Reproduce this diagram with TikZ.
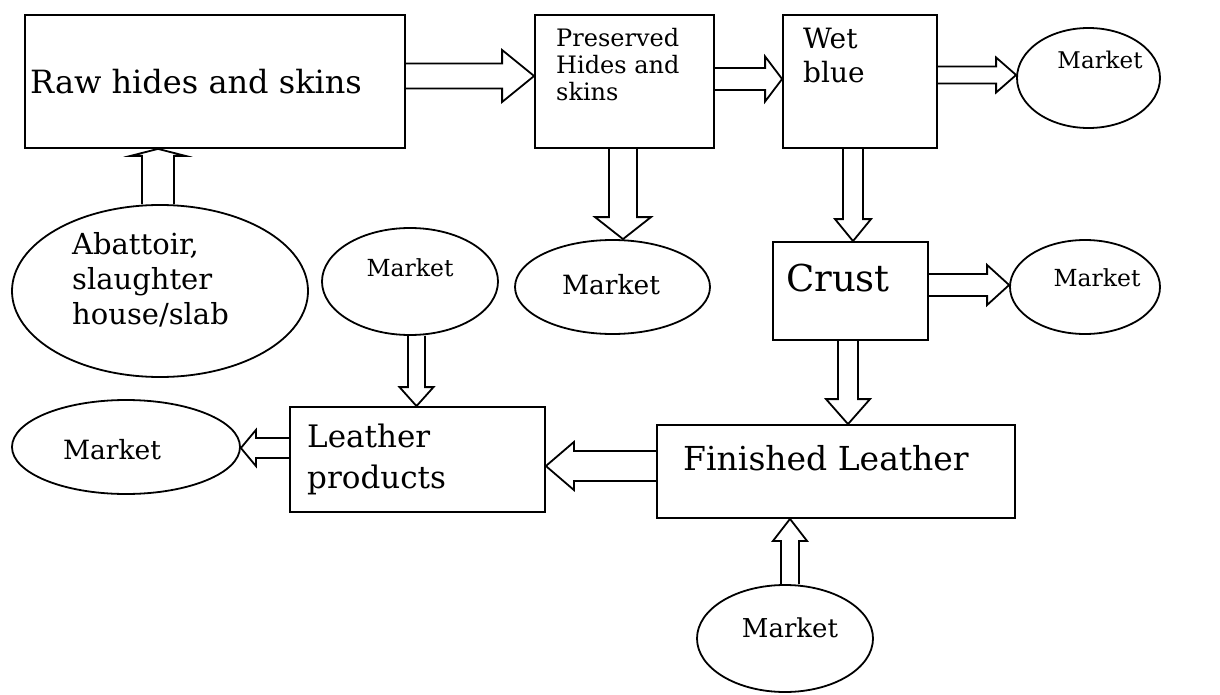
\documentclass[tikz,border=0pt]{standalone}
\usepackage{fontspec}
\setmainfont{DejaVu Serif}
\usetikzlibrary{calc,shapes.geometric}
\tikzset{
  box/.style={draw, line width=1.8pt, minimum width=#1, inner sep=0pt},
  oval/.style={draw, ellipse, line width=1.8pt, inner sep=0pt},
  txt/.style={inner sep=0pt, align=left},
  arr/.style={draw, line width=1.8pt, line join=miter},
  barrow/.style n args={3}{to path={
    let \p1=(\tikztostart), \p2=(\tikztotarget), \n1={atan2(\y2-\y1,\x2-\x1)} in
    ($(\p1)+(\n1+90:#1)$) -- ($(\p2)+(\n1+180:#3)+(\n1+90:#1)$) --
    ($(\p2)+(\n1+180:#3)+(\n1+90:#2)$) -- (\p2) --
    ($(\p2)+(\n1+180:#3)+(\n1-90:#2)$) -- ($(\p2)+(\n1+180:#3)+(\n1-90:#1)$) --
    ($(\p1)+(\n1-90:#1)$)}}
}
\newcommand\fs[2]{\fontsize{#1}{#2}\selectfont}
\begin{document}
\begin{tikzpicture}[x=1pt,y=-1pt]
\useasboundingbox (0,0) rectangle (1220,695);
% boxes
\node[box=380pt, minimum height=133pt] (raw) at (215,81.5) {};
\node[box=179pt, minimum height=133pt] (pre) at (624.5,81.5) {};
\node[box=154pt, minimum height=133pt] (wet) at (860,81.5) {};
\node[box=155pt, minimum height=98pt] (crust) at (850.5,291) {};
\node[box=358pt, minimum height=93pt] (fin) at (836,471.5) {};
\node[box=255pt, minimum height=105pt] (lea) at (417.5,459.5) {};
% ellipses
\node[oval, minimum width=143pt, minimum height=100pt] (m1) at (1088.5,78) {};
\node[oval, minimum width=195pt, minimum height=94pt] (m2) at (612.5,287) {};
\node[oval, minimum width=150pt, minimum height=94pt] (m3) at (1085,287) {};
\node[oval, minimum width=176pt, minimum height=107pt] (m4) at (410,281.5) {};
\node[oval, minimum width=228pt, minimum height=94pt] (m5) at (126,447) {};
\node[oval, minimum width=296pt, minimum height=172pt] (ab) at (160,291) {};
\node[oval, minimum width=176pt, minimum height=107pt] (m6) at (785,638.5) {};
% texts
\node[txt, anchor=west, font=\fs{32}{36}] (traw) at (30,82) {Raw hides and skins};
\node[txt, anchor=west, font=\fs{24}{27}] (tpre) at (556,65) {Preserved\\Hides and\\skins};
\node[txt, anchor=west, font=\fs{28}{34}] (twet) at (803,55) {Wet\\blue};
\node[txt, font=\fs{37}{40}] (tcrust) at (838,278) {Crust};
\node[txt, font=\fs{33}{38}] (tfin) at (826,458) {Finished Leather};
\node[txt, anchor=west, font=\fs{31}{41}] (tlea) at (307,459) {Leather\\products};
\node[txt, anchor=west, font=\fs{29}{35}] (tab) at (72,280) {Abattoir,\\slaughter\\house/slab};
\node[txt, font=\fs{23}{28}] (tm1) at (1100,60) {Market};
\node[txt, font=\fs{26.5}{30}] (tm2) at (611,285) {Market};
\node[txt, font=\fs{23.5}{28}] (tm3) at (1097,278) {Market};
\node[txt, font=\fs{23.5}{28}] (tm4) at (410,268) {Market};
\node[txt, font=\fs{26.5}{30}] (tm5) at (112,450) {Market};
\node[txt, font=\fs{26}{30}] (tm6) at (790,628) {Market};
% block arrows
\draw[arr] (raw.east |- 0,76) to[barrow={12.5pt}{26pt}{32pt}] (pre.west |- 0,76);
\draw[arr] (pre.east |- 0,79) to[barrow={11pt}{22.5pt}{17pt}] (wet.west |- 0,79);
\draw[arr] (wet.east |- 0,75) to[barrow={8.5pt}{17.5pt}{20pt}] (m1.west |- 0,75);
\draw[arr] (pre.south -| 623,0) to[barrow={14pt}{28pt}{22pt}] (m2.north -| 623,0);
\draw[arr] (wet.south -| 853,0) to[barrow={10pt}{18pt}{22pt}] (crust.north -| 853,0);
\draw[arr] (crust.east |- 0,285) to[barrow={11pt}{20pt}{22pt}] (m3.west |- 0,285);
\draw[arr] (crust.south -| 848,0) to[barrow={10pt}{22pt}{25pt}] (fin.north -| 848,0);
\draw[arr] (fin.west |- 0,466) to[barrow={15pt}{24pt}{28pt}] (lea.east |- 0,466);
\draw[arr] (lea.west |- 0,448) to[barrow={10pt}{18pt}{15pt}] (m5.east |- 0,448);
\draw[arr] (m4.south -| 416.5,0) to[barrow={8.5pt}{17pt}{19pt}] (lea.north -| 416.5,0);
\draw[arr] (ab.north -| 158,0) to[barrow={16pt}{27.5pt}{7pt}] (raw.south -| 158,0);
\draw[arr] (m6.north -| 790,0) to[barrow={9pt}{17pt}{22pt}] (fin.south -| 790,0);
\end{tikzpicture}
\end{document}
